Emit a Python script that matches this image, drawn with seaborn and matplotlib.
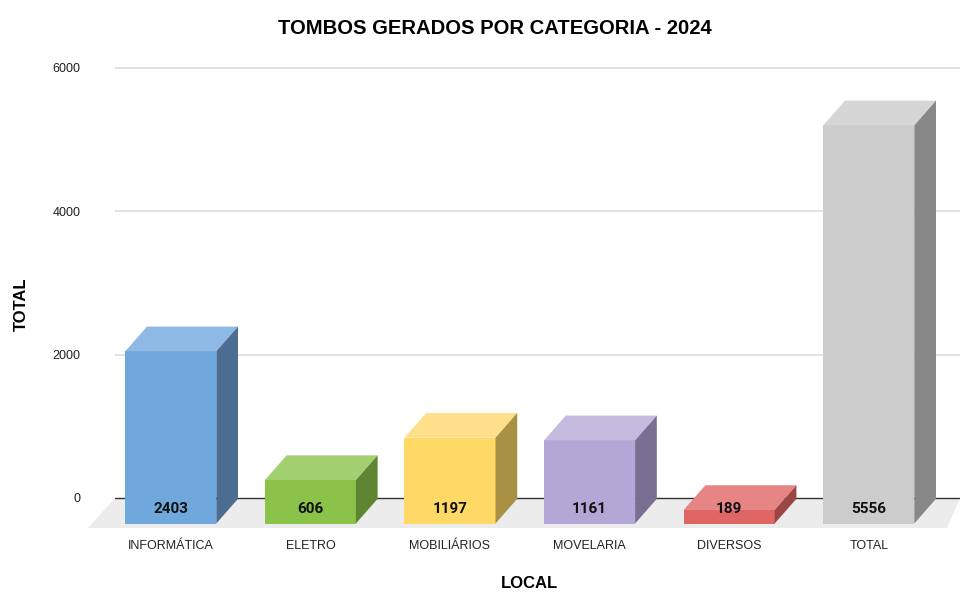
import matplotlib
matplotlib.use("Agg")
import matplotlib.pyplot as plt
import seaborn as sns
import pandas as pd
from matplotlib.patches import Polygon, Rectangle

categories = ["INFORMÁTICA", "ELETRO", "MOBILIÁRIOS", "MOVELARIA", "DIVERSOS", "TOTAL"]
values = [2403, 606, 1197, 1161, 189, 5556]
yticks = [0, 2000, 4000, 6000]

front_colors = ["#6fa8dc", "#8bc34a", "#ffd966", "#b4a7d6", "#e06666", "#cccccc"]
top_colors = ["#8db9e4", "#a2cf70", "#ffe08a", "#c4bbdf", "#e78585", "#d6d6d6"]
side_colors = ["#4a6d91", "#5d8532", "#a89142", "#786f92", "#9b4545", "#888888"]

sns.set_theme(style="white")
plt.rcParams["font.family"] = ["Liberation Sans", "DejaVu Sans"]

W, H = 961, 592
fig = plt.figure(figsize=(W / 100, H / 100), dpi=100)

# axes geometry in pixels
ax_left, ax_right = 115, 960
ax_top, ax_bot = 50, 530
ax = fig.add_axes([ax_left / W, 1 - ax_bot / H, (ax_right - ax_left) / W, (ax_bot - ax_top) / H])

px_per_unit = (498 - 68) / 6000.0
y_top = (498 - ax_top) / px_per_unit
y_bot = -(ax_bot - 498) / px_per_unit

c0_px, spacing_px = 170.8, 139.6
x_lo = (ax_left - c0_px) / spacing_px
x_hi = (ax_right - c0_px) / spacing_px

base = -25.5 / px_per_unit      # front-face bottom
dx = 21.7 / spacing_px          # depth offset in x
dy = 24.7 / px_per_unit         # depth offset in y

df = pd.DataFrame({"cat": categories, "val": values})
sns.barplot(data=df, x="cat", y="val", hue="cat", palette=front_colors, saturation=1,
            width=0.652, errorbar=None, legend=False, ax=ax,
            linewidth=0, zorder=5)
bars = sorted([p for p in ax.patches if isinstance(p, Rectangle)], key=lambda r: r.get_x())

ax.set_xlim(x_lo, x_hi)
ax.set_ylim(y_bot, y_top)

# grid lines
for t in yticks[1:]:
    ax.axhline(t, color="#dddddd", lw=1.2, zorder=0)

# floor
floor_bot = -(528 - 498) / px_per_unit
fl_l_bot = (88 - c0_px) / spacing_px
fl_l_top = (115 - c0_px) / spacing_px
fl_r_bot = (947 - c0_px) / spacing_px
fl_r_top = (960 - c0_px) / spacing_px
ax.add_patch(Polygon([(fl_l_bot, floor_bot), (fl_r_bot, floor_bot), (fl_r_top, 0), (fl_l_top, 0)],
                     closed=True, facecolor="#ececec", edgecolor="none", zorder=1, clip_on=False))
ax.axhline(0, color="#333333", lw=1.0, zorder=2)

# 3D faces
for i, p in enumerate(bars):
    x0 = p.get_x()
    w = p.get_width()
    h = p.get_height()
    p.set_y(base)
    y1 = base + h
    top = Polygon([(x0, y1), (x0 + w, y1), (x0 + w + dx, y1 + dy), (x0 + dx, y1 + dy)],
                  closed=True, facecolor=top_colors[i], edgecolor="none", zorder=5)
    side = Polygon([(x0 + w, base), (x0 + w + dx, base + dy), (x0 + w + dx, y1 + dy), (x0 + w, y1)],
                   closed=True, facecolor=side_colors[i], edgecolor="none", zorder=5)
    ax.add_patch(top)
    ax.add_patch(side)
    ax.text(x0 + w / 2, -(509 - 498) / px_per_unit, f"{values[i]}", ha="center", va="center",
            fontsize=11, fontweight="bold", family=["Roboto", "DejaVu Sans"], color="#111111", zorder=7)

for s in ax.spines.values():
    s.set_visible(False)

ax.set_yticks(yticks)
ax.set_yticklabels([str(t) for t in yticks])
ax.tick_params(axis="y", length=0, pad=25, labelsize=9, labelcolor="#222222")
ax.tick_params(axis="x", length=0, pad=7, labelsize=9, labelcolor="#222222")
ax.set_xlabel("")
ax.set_ylabel("")

fig.text(494.5 / W, 1 - 28 / H, "TOMBOS GERADOS POR CATEGORIA - 2024", ha="center", va="center",
         fontsize=14.6, fontweight="bold", color="#000000")
fig.text(21 / W, 1 - 304 / H, "TOTAL", ha="center", va="center", rotation=90,
         fontsize=12, fontweight="bold", color="#000000")
fig.text(530 / W, 1 - 584 / H, "LOCAL", ha="center", va="center",
         fontsize=12, fontweight="bold", color="#000000")

fig.savefig("out.png", dpi=100)
